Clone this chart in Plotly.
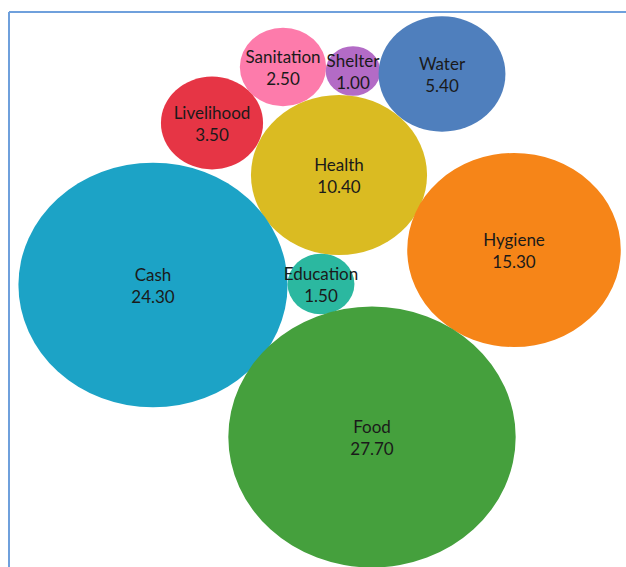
import math

import plotly.graph_objects as go

# bubble data
sectors = ["Sanitation", "Shelter", "Water", "Livelihood", "Health",
           "Hygiene", "Cash", "Education", "Food"]
amounts = [2.50, 1.00, 5.40, 3.50, 10.40, 15.30, 24.30, 1.50, 27.70]
colors = ["#fd7bab", "#b36bc6", "#4f7fbd", "#e63545", "#dabb22",
          "#f68518", "#1ca3c6", "#2bb8a0", "#45a03d"]

# packed layout centres (chart units, origin top-left)
pack_x = [283, 353, 442, 212, 339, 514, 153, 321, 372]
pack_y = [67, 71, 74, 123, 175, 250, 285, 284, 437]

# bubble radius per sqrt(value), horizontal / vertical (the chart is stretched)
RX = 27.3
RY = 24.8

W, H = 626, 567

fig = go.Figure()

for name, v, c, cx, cy in zip(sectors, amounts, colors, pack_x, pack_y):
    r = math.sqrt(v)
    fig.add_shape(
        type="circle", xref="x", yref="y",
        x0=cx - RX * r, x1=cx + RX * r,
        y0=cy - RY * r, y1=cy + RY * r,
        fillcolor=c, line={"width": 0}, layer="below",
    )

font = {"family": "Lato, Open Sans, sans-serif", "size": 17, "color": "#1a1a1a"}
fig.add_trace(go.Scatter(
    x=pack_x, y=[y - 8 for y in pack_y], mode="text",
    text=sectors, textfont=font, hoverinfo="skip", showlegend=False,
))
fig.add_trace(go.Scatter(
    x=pack_x, y=[y + 14 for y in pack_y], mode="text",
    text=[f"{v:.2f}" for v in amounts], textfont=font,
    hoverinfo="skip", showlegend=False,
))

# light blue frame on left and top
frame = {"color": "#6fa0dc", "width": 2}
fig.add_shape(type="line", xref="x", yref="y", x0=9, x1=W, y0=12, y1=12, line=frame)
fig.add_shape(type="line", xref="x", yref="y", x0=9, x1=9, y0=12, y1=H, line=frame)

fig.update_xaxes(range=[0, W], visible=False, fixedrange=True)
fig.update_yaxes(range=[H, 0], visible=False, fixedrange=True)
fig.update_layout(
    width=W, height=H,
    margin={"l": 0, "r": 0, "t": 0, "b": 0},
    paper_bgcolor="white", plot_bgcolor="white",
    showlegend=False,
)

# drop the default page margin so the figure fills the window exactly
fig.write_html(
    "out.html",
    config={"displayModeBar": False},
    post_script="document.body.style.margin='0';",
)
